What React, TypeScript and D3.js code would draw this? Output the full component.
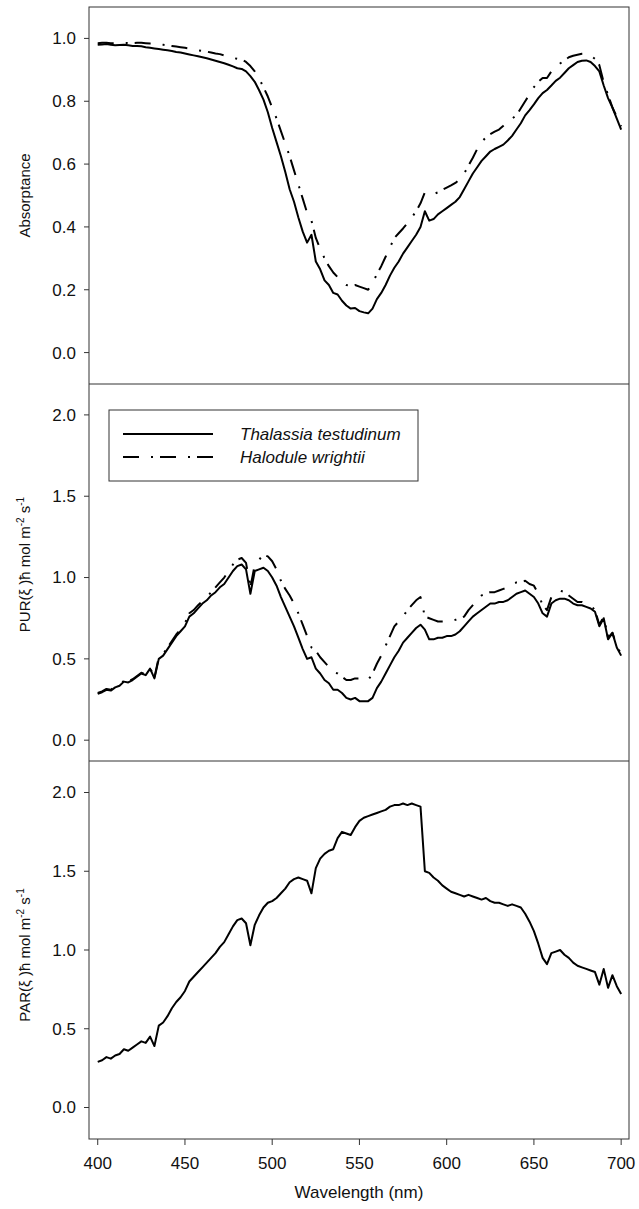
import React from 'react';
import * as d3 from 'd3';

// Wavelength grid (nm)
const wavelengths = [400,402.5,405,407.5,410,412.5,415,417.5,420,422.5,425,427.5,430,432.5,435,437.5,440,442.5,445,447.5,450,452.5,455,457.5,460,462.5,465,467.5,470,472.5,475,477.5,480,482.5,485,487.5,490,492.5,495,497.5,500,502.5,505,507.5,510,512.5,515,517.5,520,522.5,525,527.5,530,532.5,535,537.5,540,542.5,545,547.5,550,552.5,555,557.5,560,562.5,565,567.5,570,572.5,575,577.5,580,582.5,585,587.5,590,592.5,595,597.5,600,602.5,605,607.5,610,612.5,615,617.5,620,622.5,625,627.5,630,632.5,635,637.5,640,642.5,645,647.5,650,652.5,655,657.5,660,662.5,665,667.5,670,672.5,675,677.5,680,682.5,685,687.5,690,692.5,695,697.5,700];

// Absorptance — Thalassia testudinum (solid)
const absThalassia = [0.980,0.981,0.982,0.980,0.978,0.979,0.980,0.978,0.976,0.976,0.975,0.972,0.970,0.968,0.966,0.964,0.962,0.960,0.957,0.955,0.952,0.949,0.946,0.943,0.940,0.937,0.933,0.929,0.925,0.921,0.916,0.911,0.905,0.903,0.895,0.880,0.862,0.835,0.805,0.765,0.715,0.670,0.625,0.575,0.520,0.480,0.430,0.385,0.350,0.375,0.290,0.265,0.230,0.215,0.190,0.185,0.165,0.150,0.140,0.142,0.132,0.128,0.125,0.140,0.170,0.190,0.215,0.245,0.270,0.290,0.315,0.335,0.355,0.375,0.400,0.450,0.420,0.425,0.440,0.450,0.460,0.470,0.480,0.495,0.520,0.545,0.570,0.590,0.610,0.625,0.640,0.648,0.655,0.662,0.675,0.690,0.710,0.730,0.755,0.772,0.790,0.810,0.826,0.836,0.850,0.865,0.875,0.890,0.905,0.915,0.925,0.929,0.930,0.925,0.912,0.895,0.850,0.810,0.780,0.745,0.710];

// Absorptance — Halodule wrightii (dash-dot)
const absHalodule = [0.985,0.986,0.986,0.985,0.985,0.986,0.986,0.985,0.985,0.986,0.986,0.985,0.984,0.984,0.982,0.980,0.978,0.976,0.974,0.972,0.970,0.968,0.965,0.962,0.960,0.958,0.955,0.952,0.950,0.946,0.942,0.938,0.935,0.933,0.925,0.912,0.895,0.872,0.845,0.815,0.780,0.745,0.705,0.665,0.625,0.580,0.535,0.490,0.445,0.420,0.365,0.330,0.300,0.275,0.255,0.240,0.225,0.215,0.212,0.215,0.210,0.205,0.200,0.220,0.250,0.275,0.305,0.335,0.365,0.380,0.395,0.412,0.430,0.450,0.475,0.510,0.505,0.505,0.510,0.518,0.525,0.532,0.540,0.552,0.570,0.595,0.620,0.648,0.670,0.685,0.695,0.703,0.710,0.722,0.735,0.745,0.755,0.778,0.800,0.822,0.845,0.862,0.874,0.874,0.895,0.908,0.920,0.930,0.940,0.945,0.948,0.951,0.952,0.945,0.935,0.915,0.860,0.820,0.780,0.750,0.720];

// PUR — Thalassia testudinum
const purThalassia = [0.285,0.295,0.31,0.305,0.325,0.335,0.36,0.355,0.37,0.39,0.41,0.40,0.44,0.38,0.50,0.52,0.56,0.60,0.64,0.67,0.70,0.76,0.78,0.81,0.84,0.86,0.89,0.91,0.94,0.96,1.00,1.04,1.07,1.08,1.05,0.90,1.04,1.05,1.06,1.04,1.00,0.95,0.88,0.82,0.76,0.70,0.63,0.56,0.50,0.51,0.44,0.41,0.37,0.35,0.31,0.31,0.29,0.26,0.25,0.26,0.24,0.24,0.24,0.26,0.32,0.36,0.41,0.46,0.51,0.55,0.60,0.63,0.66,0.69,0.71,0.68,0.62,0.62,0.63,0.63,0.64,0.64,0.65,0.67,0.70,0.73,0.76,0.78,0.80,0.82,0.84,0.84,0.85,0.85,0.86,0.88,0.90,0.91,0.92,0.90,0.88,0.84,0.78,0.76,0.84,0.86,0.87,0.87,0.86,0.84,0.83,0.83,0.82,0.81,0.79,0.70,0.75,0.62,0.66,0.57,0.52];

// PUR — Halodule wrightii
const purHalodule = [0.29,0.30,0.315,0.31,0.33,0.34,0.365,0.36,0.375,0.395,0.415,0.405,0.445,0.385,0.51,0.53,0.57,0.61,0.65,0.68,0.72,0.78,0.80,0.83,0.855,0.88,0.91,0.94,0.97,1.00,1.04,1.08,1.11,1.12,1.09,0.94,1.08,1.11,1.14,1.13,1.10,1.05,0.98,0.93,0.89,0.84,0.78,0.71,0.64,0.57,0.55,0.51,0.48,0.45,0.42,0.41,0.39,0.37,0.37,0.38,0.38,0.38,0.37,0.41,0.47,0.52,0.58,0.64,0.70,0.73,0.76,0.80,0.83,0.86,0.88,0.76,0.75,0.74,0.73,0.73,0.73,0.73,0.74,0.75,0.76,0.80,0.83,0.86,0.89,0.90,0.91,0.91,0.92,0.93,0.94,0.96,0.97,0.97,0.98,0.96,0.95,0.90,0.83,0.80,0.88,0.90,0.92,0.91,0.89,0.87,0.85,0.85,0.84,0.83,0.80,0.71,0.76,0.63,0.66,0.58,0.53];

// PAR
const parValues = [0.29,0.30,0.32,0.31,0.33,0.34,0.37,0.36,0.38,0.40,0.42,0.41,0.45,0.39,0.52,0.54,0.58,0.63,0.67,0.70,0.74,0.80,0.83,0.86,0.89,0.92,0.95,0.98,1.02,1.05,1.10,1.15,1.19,1.20,1.17,1.03,1.16,1.22,1.27,1.30,1.31,1.33,1.36,1.39,1.43,1.45,1.46,1.45,1.44,1.36,1.52,1.58,1.61,1.63,1.64,1.71,1.75,1.74,1.73,1.78,1.82,1.84,1.85,1.86,1.87,1.88,1.89,1.91,1.92,1.92,1.93,1.92,1.93,1.92,1.91,1.50,1.49,1.46,1.44,1.41,1.39,1.37,1.36,1.35,1.34,1.35,1.34,1.33,1.32,1.33,1.31,1.30,1.30,1.29,1.28,1.29,1.28,1.27,1.23,1.18,1.12,1.04,0.95,0.91,0.98,0.99,1.00,0.97,0.95,0.92,0.90,0.89,0.88,0.87,0.86,0.78,0.88,0.76,0.84,0.77,0.72];

const absTicks = [0, 0.2, 0.4, 0.6, 0.8, 1.0];
const fluxTicks = [0, 0.5, 1.0, 1.5, 2.0];
const wlTicks = [400, 450, 500, 550, 600, 650, 700];
const legendLabels = ['Thalassia testudinum', 'Halodule wrightii'];

const FONT = '"Liberation Sans", Arial, Helvetica, sans-serif';
const FS = 17;
const FS_TITLE_Y = 15;
const LEFT = 89;
const RIGHT = 629;
const DASH = '16,12,2,7';

const x = d3.scaleLinear().domain([395, 704.5]).range([LEFT, RIGHT]);

type Panel = {
  top: number;
  bottom: number;
  domain: [number, number];
  ticks: number[];
};

const panels: Panel[] = [
  { top: 7, bottom: 384, domain: [-0.1, 1.1], ticks: absTicks },
  { top: 384, bottom: 761, domain: [-0.128, 2.19], ticks: fluxTicks },
  { top: 761, bottom: 1139, domain: [-0.2, 2.2], ticks: fluxTicks },
];

function pathFor(vals: number[], y: d3.ScaleLinear<number, number>) {
  const line = d3
    .line<number>()
    .x((_, i) => x(wavelengths[i]))
    .y((d) => y(d));
  return line(vals) || '';
}

function YAxis({ p, y }: { p: Panel; y: d3.ScaleLinear<number, number> }) {
  const fmt = d3.format('.1f');
  return (
    <g>
      {p.ticks.map((t) => (
        <g key={t}>
          <line x1={LEFT - 5} x2={LEFT} y1={y(t)} y2={y(t)} stroke="#333" strokeWidth={1} />
          <text x={LEFT - 13} y={y(t)} dy="0.35em" textAnchor="end" fontSize={FS} fontFamily={FONT} fill="#111">
            {fmt(t)}
          </text>
        </g>
      ))}
    </g>
  );
}

export default function App() {
  const ys = panels.map((p) => d3.scaleLinear().domain(p.domain).range([p.bottom, p.top]));
  const [yA, yP, yR] = ys;
  const bottom = panels[2].bottom;

  return (
    <svg
      width={639}
      height={1209}
      style={{ position: 'absolute', left: 0, top: 0, background: '#fff' }}
      fontFamily={FONT}
    >
      <rect x={0} y={0} width={639} height={1209} fill="#fff" />

      {/* curves */}
      <g fill="none" strokeLinejoin="round">
        <path d={pathFor(absHalodule, yA)} stroke="#000" strokeWidth={2} strokeDasharray={DASH} />
        <path d={pathFor(absThalassia, yA)} stroke="#000" strokeWidth={2} />
        <path d={pathFor(purHalodule, yP)} stroke="#000" strokeWidth={2} strokeDasharray={DASH} />
        <path d={pathFor(purThalassia, yP)} stroke="#000" strokeWidth={2} />
        <path d={pathFor(parValues, yR)} stroke="#000" strokeWidth={2} />
      </g>

      {/* frame */}
      <rect x={LEFT} y={panels[0].top} width={RIGHT - LEFT} height={bottom - panels[0].top} fill="none" stroke="#333" strokeWidth={1} />
      <line x1={LEFT} x2={RIGHT} y1={panels[1].top} y2={panels[1].top} stroke="#333" strokeWidth={1} />
      <line x1={LEFT} x2={RIGHT} y1={panels[2].top} y2={panels[2].top} stroke="#333" strokeWidth={1} />

      {panels.map((p, i) => (
        <YAxis key={i} p={p} y={ys[i]} />
      ))}

      {/* x axis */}
      {wlTicks.map((t) => (
        <g key={t}>
          <line x1={x(t)} x2={x(t)} y1={bottom} y2={bottom + 6} stroke="#333" strokeWidth={1} />
          <text x={x(t)} y={bottom + 30} textAnchor="middle" fontSize={FS} fill="#111">
            {t}
          </text>
        </g>
      ))}
      <text x={(LEFT + RIGHT) / 2} y={bottom + 59} textAnchor="middle" fontSize={FS} fill="#111">
        Wavelength (nm)
      </text>

      {/* y titles */}
      <text transform={`translate(30, ${(panels[0].top + panels[0].bottom) / 2}) rotate(-90)`} textAnchor="middle" fontSize={FS_TITLE_Y} fill="#111">
        Absorptance
      </text>
      <text transform={`translate(30, ${(panels[1].top + panels[1].bottom) / 2 - 8}) rotate(-90)`} textAnchor="middle" fontSize={FS_TITLE_Y} fill="#111">
        PUR(ξ )ħ mol m<tspan dy={-6} fontSize={10}>-2</tspan>
        <tspan dy={6}> s</tspan>
        <tspan dy={-6} fontSize={10}>-1</tspan>
      </text>
      <text transform={`translate(30, ${(panels[2].top + panels[2].bottom) / 2 + 5}) rotate(-90)`} textAnchor="middle" fontSize={FS_TITLE_Y} fill="#111">
        PAR(ξ )ħ mol m<tspan dy={-6} fontSize={10}>-2</tspan>
        <tspan dy={6}> s</tspan>
        <tspan dy={-6} fontSize={10}>-1</tspan>
      </text>

      {/* legend */}
      <g>
        <rect x={109} y={410} width={309} height={71} fill="#fff" stroke="#333" strokeWidth={1} />
        <line x1={123} x2={213} y1={434} y2={434} stroke="#000" strokeWidth={2} />
        <line x1={123} x2={213} y1={457} y2={457} stroke="#000" strokeWidth={2} strokeDasharray={DASH} />
        <text x={240} y={434} dy="0.35em" fontSize={FS} fontStyle="italic" fill="#111">
          {legendLabels[0]}
        </text>
        <text x={240} y={457} dy="0.35em" fontSize={FS} fontStyle="italic" fill="#111">
          {legendLabels[1]}
        </text>
      </g>
    </svg>
  );
}
